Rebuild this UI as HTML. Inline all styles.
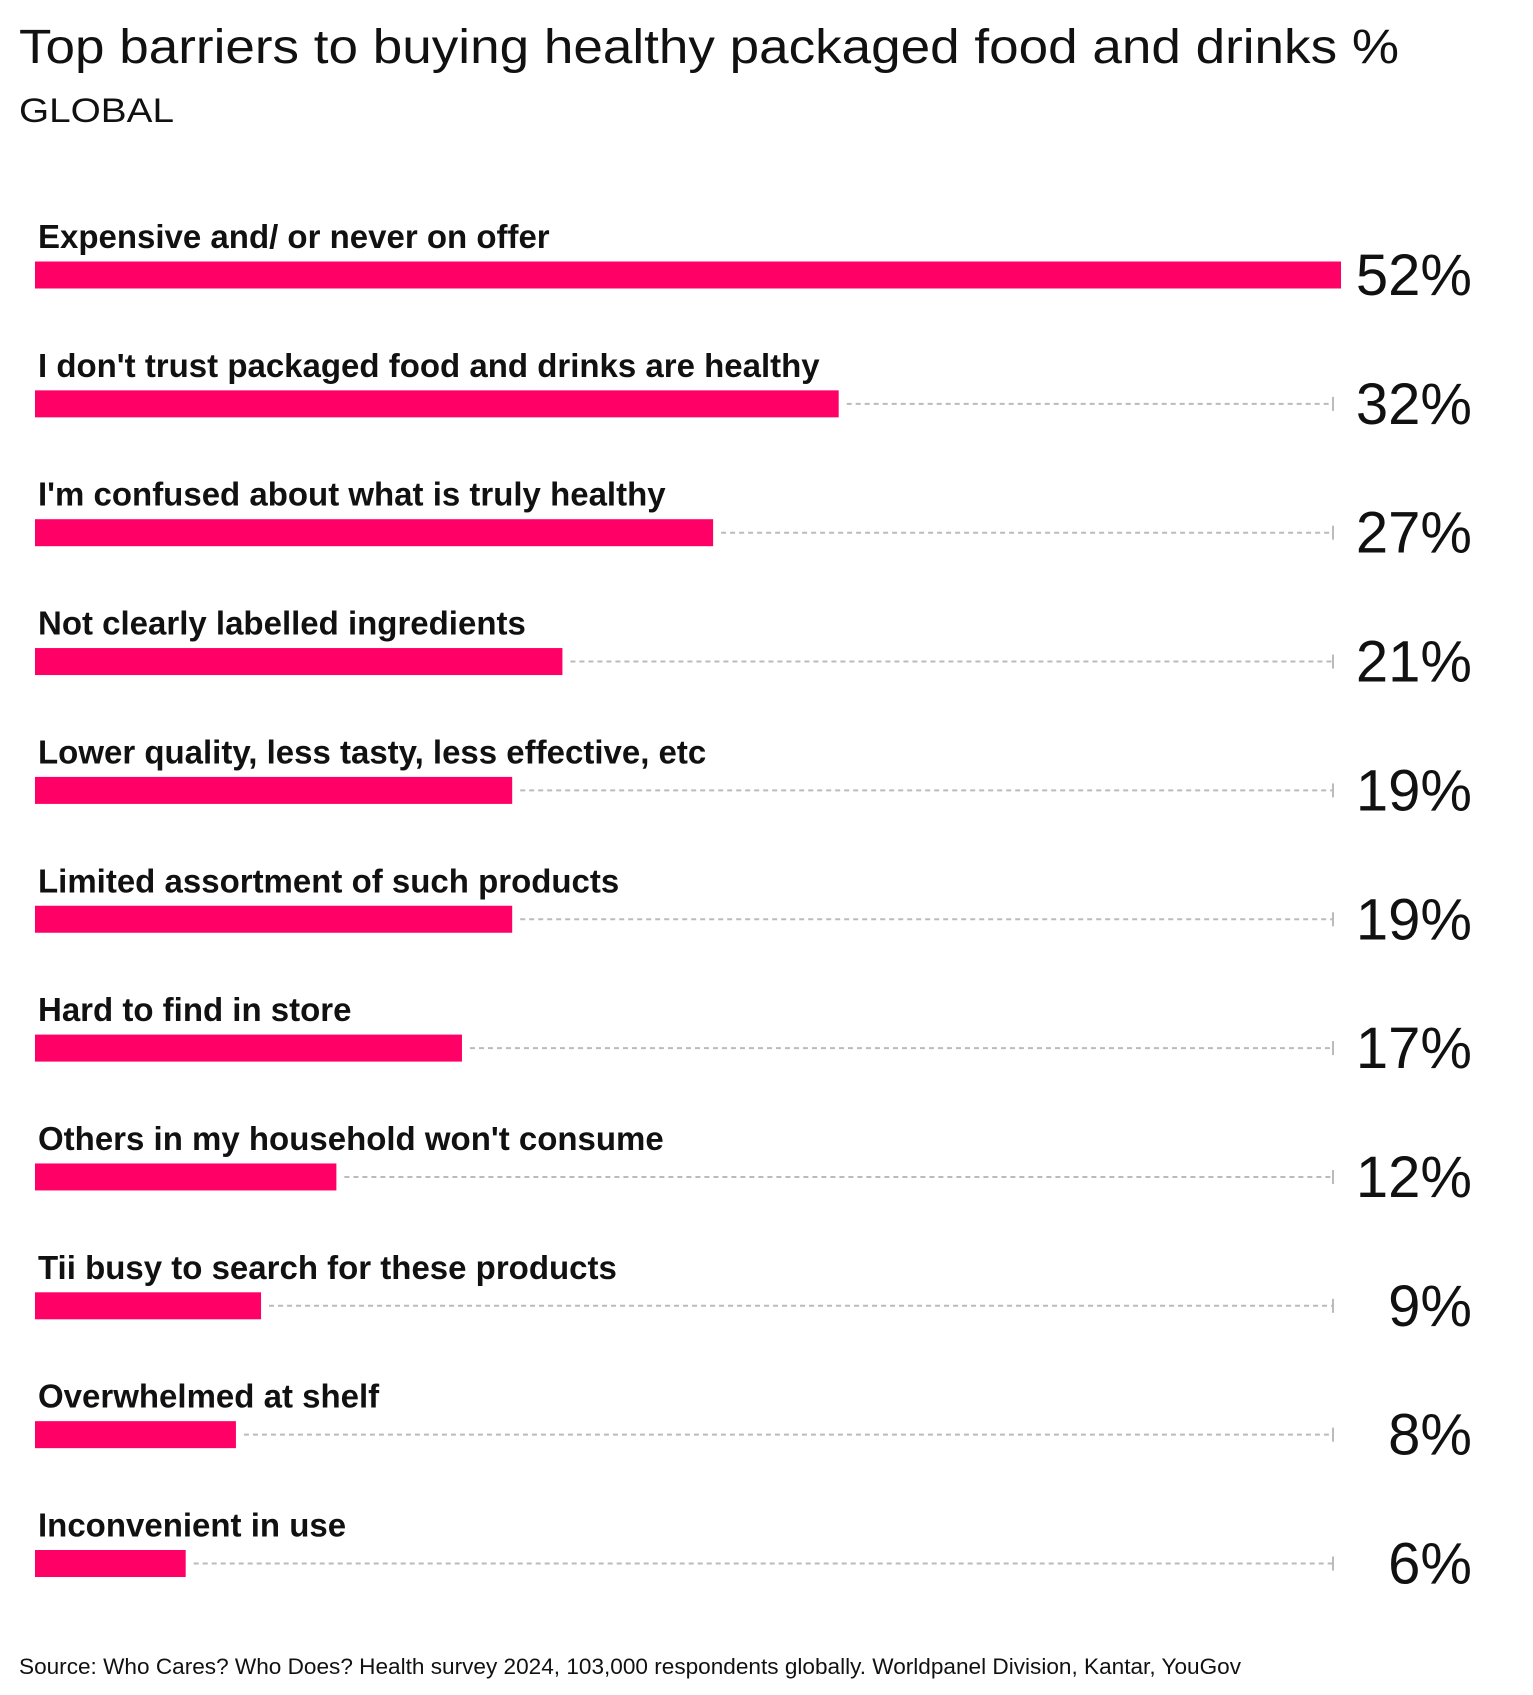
<!DOCTYPE html>
<html><head><meta charset="utf-8"><style>
html,body{margin:0;padding:0;background:#fff;}
svg{display:block;font-family:"Liberation Sans",sans-serif;}
</style></head><body>
<svg id="chart" width="1533" height="1695" viewBox="0 0 1533 1695">
<text x="19" y="63" font-size="48" fill="#111" textLength="1380" lengthAdjust="spacingAndGlyphs">Top barriers to buying healthy packaged food and drinks %</text>
<text x="19" y="122" font-size="34" fill="#111" textLength="155" lengthAdjust="spacingAndGlyphs">GLOBAL</text>
<g id="bars"></g>
<text x="19" y="1674" font-size="22" fill="#111" textLength="1222" lengthAdjust="spacingAndGlyphs">Source: Who Cares? Who Does? Health survey 2024, 103,000 respondents globally. Worldpanel Division, Kantar, YouGov</text>
</svg>
<script>
const categories = ["Expensive and/ or never on offer","I don't trust packaged food and drinks are healthy","I'm confused about what is truly healthy","Not clearly labelled ingredients","Lower quality, less tasty, less effective, etc","Limited assortment of such products","Hard to find in store","Others in my household won't consume","Tii busy to search for these products","Overwhelmed at shelf","Inconvenient in use"];
const values = [52,32,27,21,19,19,17,12,9,8,6];
const valueLabels = ["52%","32%","27%","21%","19%","19%","17%","12%","9%","8%","6%"];

const NS = "http://www.w3.org/2000/svg";
const x0 = 35, xMaxPx = 1341, vMax = 52;
const xScale = v => x0 + v / vMax * (xMaxPx - x0);
const yTop = 275, step = 128.85;
const yScale = i => yTop + i * step;
const g = document.getElementById("bars");
function mk(tag, attrs){ const e=document.createElementNS(NS,tag); for(const k in attrs) e.setAttribute(k,attrs[k]); return e; }
categories.forEach((c,i)=>{
  const cy = yScale(i);
  const xe = xScale(values[i]);
  const lab = mk("text",{x:38,y:cy-27,"font-size":33,"font-weight":"bold",fill:"#111"});
  
  
  lab.textContent = c; g.appendChild(lab);
  const bar = mk("rect",{x:x0,y:cy-13.5,width:xe-x0,height:27,fill:"#ff0066"});
  
  
  g.appendChild(bar);
  if (xe < 1320) {
    const ln = mk("line",{x1:xe+8,y1:cy,x2:1332,y2:cy,stroke:"#bbb","stroke-width":2,"stroke-dasharray":"5 4"});
    
    
    g.appendChild(ln);
    const tk = mk("line",{x1:1333,y1:cy-7,x2:1333,y2:cy+7,stroke:"#bbb","stroke-width":2});
    
    
    g.appendChild(tk);
  }
  const vl = mk("text",{x:1472,y:cy+20,"font-size":58,fill:"#111","text-anchor":"end"});
  
  
  vl.textContent = valueLabels[i]; g.appendChild(vl);
});
</script>
</body></html>
